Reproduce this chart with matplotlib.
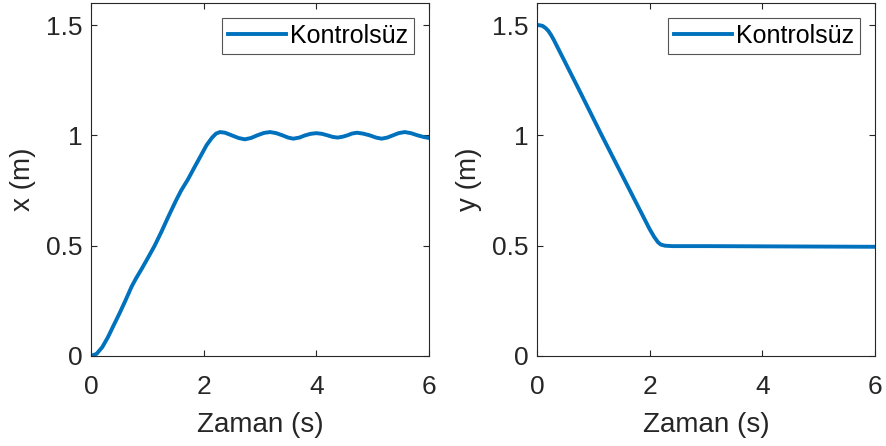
import matplotlib
matplotlib.use('Agg')
import matplotlib.pyplot as plt
import numpy as np

plt.rcParams['font.family'] = ['Liberation Sans', 'DejaVu Sans']

# x(t)
t_x = [0, 0.1, 0.2, 0.3, 0.4, 0.5, 0.6, 0.72, 0.8, 0.9, 1.0, 1.13, 1.25, 1.37, 1.5,
       1.6, 1.72, 1.84, 1.95, 2.05, 2.15,
       2.22, 2.29, 2.38, 2.5, 2.62, 2.73, 2.84, 2.95, 3.07, 3.18, 3.29, 3.4, 3.5,
       3.59, 3.7, 3.8, 3.9, 4.0, 4.1, 4.2, 4.29, 4.38, 4.47, 4.55, 4.63, 4.72,
       4.83, 4.95, 5.06, 5.16, 5.26, 5.36, 5.46, 5.57, 5.68, 5.8, 5.9, 6.0]
x_val = [0, 0.01, 0.04, 0.085, 0.138, 0.19, 0.245, 0.314, 0.352, 0.395, 0.44, 0.5, 0.563,
         0.63, 0.70, 0.75, 0.80, 0.857, 0.908, 0.955, 0.99,
         1.008, 1.015, 1.012, 1.0, 0.988, 0.982, 0.988, 1.0, 1.011, 1.015, 1.01, 1.0, 0.99,
         0.985, 0.99, 1.0, 1.007, 1.01, 1.007, 1.0, 0.993, 0.99, 0.994, 1.0, 1.008, 1.012,
         1.008, 1.0, 0.99, 0.985, 0.99, 1.0, 1.01, 1.015, 1.01, 1.0, 0.993, 0.988]

# y(t)
t_y = [0, 0.05, 0.1, 0.15, 0.2, 0.25, 0.3, 0.74, 1.15, 1.57, 2.0, 2.08, 2.15, 2.2,
       2.27, 2.4, 3, 4, 5, 6]
y_val = [1.5, 1.499, 1.496, 1.487, 1.474, 1.455, 1.432, 1.21, 1.0, 0.79, 0.575, 0.54,
         0.515, 0.505, 0.5, 0.498, 0.498, 0.497, 0.496, 0.495]

series = [(t_x, x_val, 'x (m)'), (t_y, y_val, 'y (m)')]
legend_label = 'Kontrolsüz'
xticks = [0, 2, 4, 6]
yticks = [0, 0.5, 1, 1.5]

dark = '#262626'
blue = '#0072BD'

fig = plt.figure(figsize=(8.87, 4.46), dpi=100)
lefts = [0.1026, 0.6054]
for i in range(2):
    ax = fig.add_axes([lefts[i], 0.2018, 0.381, 0.7915])
    t, v, lab = series[i]
    ax.plot(t, v, color=blue, linewidth=2.8, label=legend_label)
    ax.set_xlim(0, 6)
    ax.set_ylim(0, 1.6)
    ax.set_xticks(xticks)
    ax.set_yticks(yticks)
    ax.set_xticklabels(['0', '2', '4', '6'])
    ax.set_yticklabels(['0', '0.5', '1', '1.5'])
    ax.tick_params(direction='in', top=True, right=True, length=4, width=0.8,
                   labelsize=19, colors=dark, pad=6)
    ax.tick_params(axis='x', pad=14)
    for s in ax.spines.values():
        s.set_color(dark)
        s.set_linewidth(0.8)
    ax.set_xlabel('Zaman (s)', fontsize=20, color=dark, labelpad=9)
    ax.set_ylabel(lab, fontsize=20, color=dark, labelpad=7)
    leg = ax.legend(loc='upper right', fontsize=18, fancybox=False, framealpha=1,
                    edgecolor='#555555', handlelength=2.3, borderpad=0.25,
                    handletextpad=0.15, borderaxespad=0.6)
    leg.get_frame().set_linewidth(0.8)

fig.savefig('out.png', dpi=100)
